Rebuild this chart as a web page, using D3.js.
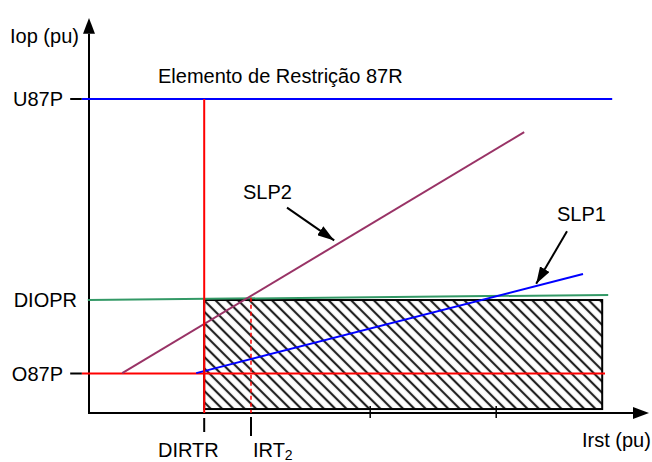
<!DOCTYPE html>
<html>
<head>
<meta charset="utf-8">
<script src="https://cdn.jsdelivr.net/npm/d3@7"></script>
<style>
	body { margin: 0; background: #fff; }
	svg { display: block; font-family: "Liberation Sans", Arial, sans-serif; }
</style>
</head>
<body>
<div id="chart"></div>
<script>
const width = 652;
const height = 462;

// values in chart units (x: Irst, y: Iop)
const x_ticks = [
	{ name: 'DIRTR', value: 2.88 },
	{ name: 'IRT', sub: '2', value: 4.05 }
];
const x_minor_ticks = [7.03, 10.18];
const y_ticks = [
	{ name: 'U87P', value: 7.95 },
	{ name: 'DIOPR', value: 2.86 },
	{ name: 'O87P', value: 1.0 }
];

const u87p_line = [[-0.18, 7.95], [13.08, 7.95]];
const o87p_line = [[-0.18, 1.0], [12.9, 1.0]];
const diopr_line = [[-0.03, 2.86], [12.98, 2.99]];
const slp2_line = [[0.83, 1.01], [10.88, 7.11]];
const slp1_line = [[2.68, 1.01], [12.35, 3.52]];
const dirtr_line = [[2.88, 7.95], [2.88, 0]];
const irt2_line = [[4.05, 2.92], [4.05, 0]];
const trip_zone = { x0: 2.88, x1: 12.83, y0: 0.1, y1: 2.86 };

const labels = [
	{ text: 'SLP2', x: 3.85, y: 5.42, arrow: [[4.95, 5.2], [6.13, 4.37]] },
	{ text: 'SLP1', x: 11.7, y: 4.86, arrow: [[11.95, 4.6], [11.18, 3.27]] }
];

const x = d3.scaleLinear().domain([0, 14]).range([89, 649]);
const y = d3.scaleLinear().domain([0, 10]).range([413, 18]);

const svg = d3.select('#chart')
	.append('svg')
	.attr('width', width)
	.attr('height', height);

const defs = svg.append('defs');

defs.append('pattern')
	.attr('id', 'hatch')
	.attr('patternUnits', 'userSpaceOnUse')
	.attr('width', 8)
	.attr('height', 8)
	.attr('patternTransform', 'rotate(-45)')
	.append('line')
	.attr('x1', 4).attr('y1', 0)
	.attr('x2', 4).attr('y2', 8)
	.attr('stroke', '#222')
	.attr('stroke-width', 2.2);

defs.append('marker')
	.attr('id', 'head')
	.attr('viewBox', '0 0 10 10')
	.attr('preserveAspectRatio', 'none')
	.attr('refX', 10)
	.attr('refY', 5)
	.attr('markerUnits', 'userSpaceOnUse')
	.attr('markerWidth', 17)
	.attr('markerHeight', 11)
	.attr('orient', 'auto')
	.append('path')
	.attr('d', 'M0,0 L10,5 L0,10 z')
	.attr('fill', '#000');

const line = d3.line().x(d => x(d[0])).y(d => y(d[1]));

// hatched operate zone
svg.append('rect')
	.attr('x', x(trip_zone.x0))
	.attr('y', y(trip_zone.y1))
	.attr('width', x(trip_zone.x1) - x(trip_zone.x0))
	.attr('height', y(trip_zone.y0) - y(trip_zone.y1))
	.attr('fill', 'url(#hatch)')
	.attr('stroke', '#000')
	.attr('stroke-width', 2);

// axes
svg.append('line')
	.attr('x1', x(0)).attr('y1', y(0) + 1)
	.attr('x2', x(0)).attr('y2', y(9.6))
	.attr('stroke', '#000').attr('stroke-width', 2);
svg.append('path')
	.attr('d', 'M' + x(0) + ',' + y(10) + ' L' + (x(0) + 6) + ',' + y(9.6) + ' L' + (x(0) - 6) + ',' + y(9.6) + ' z')
	.attr('fill', '#000');

svg.append('line')
	.attr('x1', x(0) - 1).attr('y1', y(0))
	.attr('x2', x(13.6)).attr('y2', y(0))
	.attr('stroke', '#000').attr('stroke-width', 2);
svg.append('path')
	.attr('d', 'M' + x(14) + ',' + y(0) + ' L' + x(13.6) + ',' + (y(0) - 6) + ' L' + x(13.6) + ',' + (y(0) + 6) + ' z')
	.attr('fill', '#000');

// characteristic lines
svg.append('path').attr('d', line(u87p_line)).attr('stroke', '#0000ff').attr('stroke-width', 2).attr('fill', 'none');
svg.append('path').attr('d', line(o87p_line)).attr('stroke', '#ff0000').attr('stroke-width', 2).attr('fill', 'none');
svg.append('path').attr('d', line(diopr_line)).attr('stroke', '#339966').attr('stroke-width', 2).attr('fill', 'none');
svg.append('path').attr('d', line(slp2_line)).attr('stroke', '#993366').attr('stroke-width', 2).attr('fill', 'none');
svg.append('path').attr('d', line(slp1_line)).attr('stroke', '#0000ff').attr('stroke-width', 2).attr('fill', 'none');
svg.append('path').attr('d', line(dirtr_line)).attr('stroke', '#ff0000').attr('stroke-width', 2).attr('fill', 'none');
svg.append('path').attr('d', line(irt2_line)).attr('stroke', '#ff0000').attr('stroke-width', 1.5)
	.attr('stroke-dasharray', '4,3').attr('fill', 'none');

// y ticks
y_ticks.forEach(function (d) {
	if (d.name != 'DIOPR') {
		svg.append('line')
			.attr('x1', x(-0.47)).attr('x2', x(-0.18))
			.attr('y1', y(d.value)).attr('y2', y(d.value))
			.attr('stroke', '#000').attr('stroke-width', 2);
	}
	svg.append('text')
		.attr('x', d.name == 'DIOPR' ? 77 : 63)
		.attr('y', y(d.value) + 7)
		.attr('text-anchor', 'end')
		.attr('font-size', 20)
		.text(d.name);
});

// x ticks
x_ticks.forEach(function (d, i) {
	svg.append('line')
		.attr('x1', x(d.value)).attr('x2', x(d.value))
		.attr('y1', y(0) + (i == 0 ? 5 : 4)).attr('y2', y(0) + (i == 0 ? 19 : 23))
		.attr('stroke', '#000').attr('stroke-width', 2);

	const t = svg.append('text')
		.attr('x', i == 0 ? 158 : 253)
		.attr('y', 457)
		.attr('font-size', 20)
		.text(d.name);
	if (d.sub) {
		t.append('tspan')
			.attr('font-size', 14)
			.attr('dy', 3)
			.text(d.sub);
	}
});

x_minor_ticks.forEach(function (v) {
	svg.append('line')
		.attr('x1', x(v)).attr('x2', x(v))
		.attr('y1', y(0) - 7).attr('y2', y(0) + 5)
		.attr('stroke', '#000').attr('stroke-width', 1.5);
});

// axis titles
svg.append('text').attr('x', 10).attr('y', 43).attr('font-size', 20).text('Iop (pu)');
svg.append('text').attr('x', 582).attr('y', 447).attr('font-size', 20).text('Irst (pu)');
svg.append('text').attr('x', 158).attr('y', 83).attr('font-size', 20).text('Elemento de Restrição 87R');

// slope labels
labels.forEach(function (d) {
	svg.append('text')
		.attr('x', x(d.x)).attr('y', y(d.y))
		.attr('font-size', 20)
		.text(d.text);
	svg.append('path')
		.attr('d', line(d.arrow))
		.attr('stroke', '#000')
		.attr('stroke-width', 2)
		.attr('fill', 'none')
		.attr('marker-end', 'url(#head)');
});
</script>
</body>
</html>
